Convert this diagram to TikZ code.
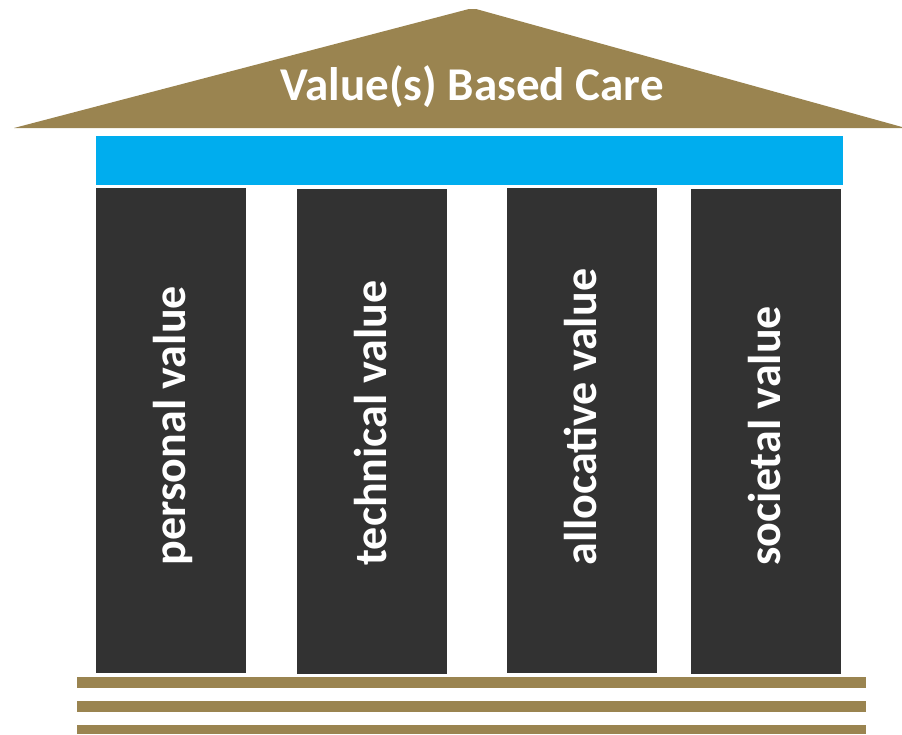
\documentclass[tikz,border=0pt]{standalone}
\usepackage{fontspec}
\setmainfont{Carlito}
\usetikzlibrary{positioning,calc}
\definecolor{roofgold}{RGB}{154,132,80}
\definecolor{beamblue}{RGB}{0,173,238}
\definecolor{pillargray}{RGB}{50,50,50}
\tikzset{
    pillar/.style = {fill=pillargray, rectangle, inner sep=0pt,
        minimum height=485pt,
        minimum width=150pt},
    pillartext/.style = {text=white, rotate=90, anchor=base west, inner sep=0pt,
        font=\fontsize{46}{50}\selectfont\bfseries},
    stepbar/.style = {fill=roofgold},
    title/.style = {text=white, anchor=base, inner sep=0pt,
        font=\fontsize{47}{52}\selectfont\bfseries}
}

\begin{document}
\begin{tikzpicture}[x=1pt, y=-1pt]
            \useasboundingbox (0,0) rectangle (902,734);
            % roof
            \fill[roofgold] (14,128) -- (469,9) -- (476,9) -- (902,127) -- (902,128) -- cycle;
            \node [title] (roof) at (472,100) {Value(s) Based Care};
            % beam
            \fill[beamblue] (96,136) rectangle (843,185);
            % pillars
            \node [pillar] (p1) at (171,430.5) {};
            \node [pillar] (p2) at (372,431) {};
            \node [pillar] (p3) at (582,430.5) {};
            \node [pillar] (p4) at (766,431) {};
            \node [pillartext] (t1) at ($(p1.south)+(14,-108)$) {personal value};
            \node [pillartext] (t2) at ($(p2.south)+(14,-108)$) {technical value};
            \node [pillartext] (t3) at ($(p3.south)+(14,-108)$) {allocative value};
            \node [pillartext] (t4) at ($(p4.south)+(14,-108)$) {societal value};
            % steps
            \fill[stepbar] (77,677) rectangle (866,688);
            \fill[stepbar] (77,701) rectangle (866,712);
            \fill[stepbar] (77,725) rectangle (866,734);
        \end{tikzpicture}
\end{document}
